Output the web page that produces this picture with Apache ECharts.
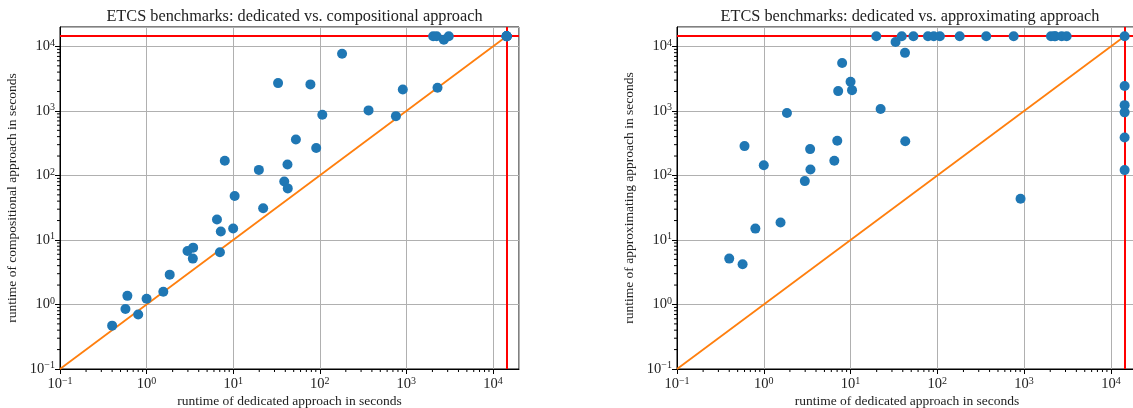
<!DOCTYPE html>
<html>
<head>
<meta charset="utf-8">
<script src="https://cdn.jsdelivr.net/npm/echarts@6/dist/echarts.min.js"></script>
<style>
  html, body { margin: 0; padding: 0; background: #fff; }
  #chart { width: 1133px; height: 408px; }
</style>
</head>
<body>
<div id="chart"></div>
<script>
// timeout of the benchmarks (4 h), used for the red lines
const timeout = 14400
const axisMin = 0.1
const axisMax = 20000

// runtime of the dedicated approach (x of both plots)
const dedicated = [0.40, 0.57, 0.60, 0.80, 1.0, 1.56, 1.85, 2.97, 3.42, 3.45,
  6.5, 7.03, 7.2, 8.0, 10.0, 10.4, 19.8, 22.2, 33, 38.9,
  42.4, 42.7, 53, 78, 91, 107, 181, 366, 758, 910,
  2040, 2240, 2290, 2710, 3090,
  14400, 14400, 14400, 14400, 14400, 14400]
// runtime of the compositional approach
const compositional = [0.47, 0.85, 1.36, 0.70, 1.23, 1.58, 2.9, 6.74, 5.14, 7.6,
  20.7, 6.44, 13.5, 169, 15.1, 48, 122, 31, 2700, 80.7,
  148, 63, 361, 2580, 266, 870, 7700, 1020, 830, 2150,
  14400, 14400, 2290, 12700, 14400,
  14400, 14400, 14400, 14400, 14400, 14400]
// runtime of the approximating approach
const approximating = [5.14, 4.2, 285, 15.0, 144, 18.6, 927, 81.7, 256, 124,
  169, 344, 2030, 5520, 2830, 2100, 14400, 1070, 11700, 14400,
  7950, 340, 14400, 14400, 14400, 14400, 14400, 14400, 14400, 43.5,
  14400, 14400, 14400, 14400, 14400,
  14400, 2430, 1230, 950, 388, 121]

const titles = ['ETCS benchmarks: dedicated vs. compositional approach',
  'ETCS benchmarks: dedicated vs. approximating approach']
const xName = 'runtime of dedicated approach in seconds'
const yNames = ['runtime of compositional approach in seconds',
  'runtime of approximating approach in seconds']

const font = 'Liberation Serif, Times New Roman, serif'

// minor ticks 2..9 per decade
const minorTicks = []
for (let d = -1; d <= 4; d++) {
  for (let m = 2; m <= 9; m++) {
    const v = m * Math.pow(10, d)
    if (v < axisMax) minorTicks.push(+v.toPrecision(3))
  }
}

function powLabel(v) {
  const l = Math.log10(v)
  const e = Math.round(l)
  if (Math.abs(l - e) > 1e-6) return ''
  return '{b|10}{e|' + (e < 0 ? '\u2212' + (-e) : e) + '}'
}

const labelRich = {
  b: { fontSize: 14.5, fontFamily: font, color: '#222' },
  e: { fontSize: 10, fontFamily: font, color: '#222', verticalAlign: 'top', padding: [0, 0, 7, 0] }
}

const grids = [
  { left: 60, top: 27, width: 459, height: 342 },
  { left: 677, top: 27, width: 460, height: 342 }
]

function logAxis(i, isX) {
  return {
    type: 'log',
    gridIndex: i,
    min: axisMin,
    max: axisMax,
    logBase: 10,
    name: isX ? xName : yNames[i],
    nameLocation: 'middle',
    nameGap: isX ? 25 : 41,
    nameMoveOverlap: false,
    nameTextStyle: { fontFamily: font, fontSize: 13.5, color: '#222' },
    axisLine: { show: true, lineStyle: { color: '#000', width: 1 } },
    axisTick: { show: true, inside: false, length: 5, lineStyle: { color: '#000', width: 1 } },
    axisLabel: {
      formatter: powLabel,
      rich: labelRich,
      margin: isX ? 7 : 5,
      showMaxLabel: false
    },
    splitLine: { show: true, lineStyle: { color: '#b0b0b0', width: 1 } }
  }
}

function minorSeries(i, isX) {
  return {
    type: 'custom',
    xAxisIndex: i,
    yAxisIndex: i,
    clip: false,
    silent: true,
    z: 10,
    data: minorTicks.map(v => isX ? [v, axisMin] : [axisMin, v]),
    renderItem: function (params, api) {
      const p = api.coord([api.value(0), api.value(1)])
      return {
        type: 'line',
        shape: isX
          ? { x1: p[0], y1: p[1], x2: p[0], y2: p[1] + 3 }
          : { x1: p[0], y1: p[1], x2: p[0] - 3, y2: p[1] },
        style: { stroke: '#000', lineWidth: 1 }
      }
    }
  }
}

const others = [compositional, approximating]
const series = []
others.forEach((ys, i) => {
  series.push({
    type: 'line',
    xAxisIndex: i,
    yAxisIndex: i,
    data: [[axisMin, axisMin], [timeout, timeout]],
    showSymbol: false,
    silent: true,
    lineStyle: { color: '#ff7f0e', width: 1.8 },
    z: 2,
    markLine: {
      silent: true,
      symbol: 'none',
      label: { show: false },
      lineStyle: { color: '#ff0000', width: 2, type: 'solid' },
      data: [{ yAxis: timeout }, { xAxis: timeout }]
    }
  })
  series.push({
    type: 'scatter',
    xAxisIndex: i,
    yAxisIndex: i,
    data: dedicated.map((x, k) => [x, ys[k]]),
    symbolSize: 10,
    itemStyle: { color: '#1f77b4', opacity: 1 },
    z: 5
  })
  series.push(minorSeries(i, true))
  series.push(minorSeries(i, false))
})

const chart = echarts.init(document.getElementById('chart'))
chart.setOption({
  animation: false,
  backgroundColor: '#fff',
  title: titles.map((t, i) => ({
    text: t,
    left: grids[i].left + grids[i].width / 2 - (i === 1 ? 2 : 0),
    top: 4,
    textAlign: 'center',
    textStyle: { fontFamily: font, fontSize: 16.3, fontWeight: 'normal', color: '#222' }
  })),
  grid: grids.map(g => Object.assign({
    show: true, borderColor: '#000', borderWidth: 1,
    containLabel: false, outerBoundsMode: 'none'
  }, g)),
  xAxis: [logAxis(0, true), logAxis(1, true)],
  yAxis: [logAxis(0, false), logAxis(1, false)],
  series: series
})
</script>
</body>
</html>
